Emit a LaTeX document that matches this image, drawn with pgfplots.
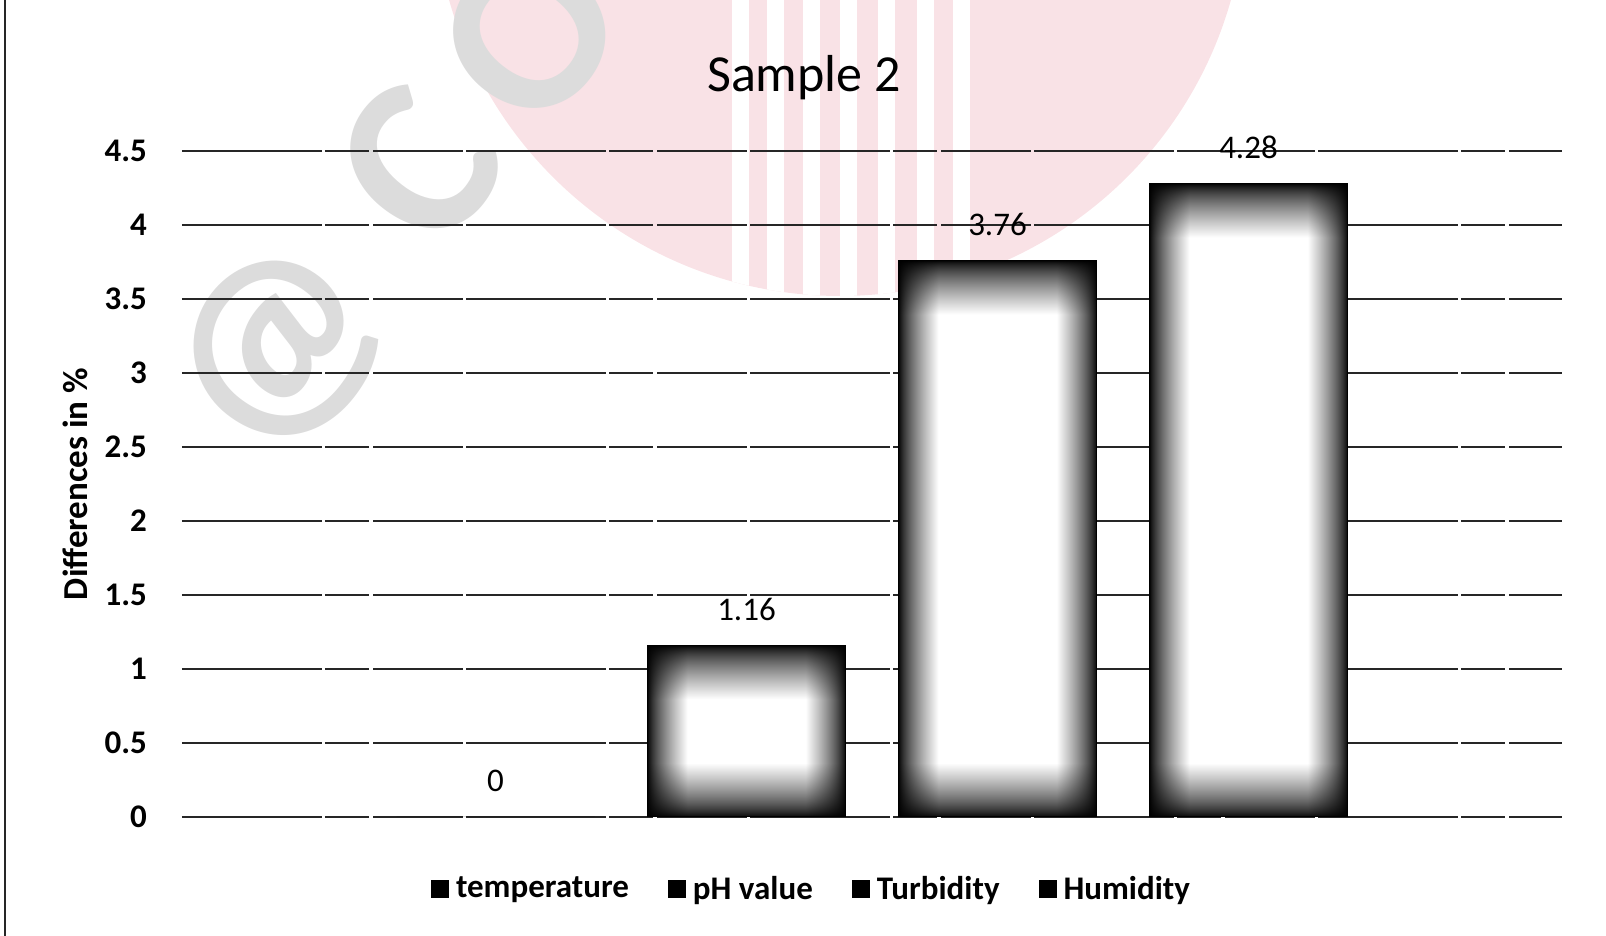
\documentclass[border=0pt]{standalone}
\usepackage{pgfplots}
\pgfplotsset{compat=1.18}
\usepackage{fontspec}
\setmainfont{Carlito}
\definecolor{wmpink}{RGB}{249,226,230}
\definecolor{wmgray}{RGB}{220,220,220}
% rectangular vignette: dark edges fading to a white interior (bar width 99pt, height #2 pt)
\newcommand{\declvign}[2]{%
\pgfdeclarefunctionalshading{#1}{\pgfpoint{-50bp}{-50bp}}{\pgfpoint{50bp}{50bp}}{}{
  abs 25 exch sub #2 mul 50 div 27 div dup 1 gt {pop 1} if dup 0 lt {pop 0} if
  exch abs 25 exch sub 99 mul 50 div 20 div dup 1 gt {pop 1} if dup 0 lt {pop 0} if
  mul 0.75 exp dup dup
}}
\declvign{vignA}{85.8}
\declvign{vignB}{278.2}
\declvign{vignC}{316.7}
\pgfplotsset{sqlegend/.style={legend image code/.code={\pgfpathrectangle{\pgfpoint{0pt}{-4.5pt}}{\pgfpoint{9pt}{9pt}}\pgfsetfillcolor{black}\pgfusepath{fill}}}}
\newcommand{\lblfont}{\bfseries\fontsize{16.5}{19}\selectfont}
\begin{document}
\begin{tikzpicture}
\useasboundingbox (-91pt,-59.5pt) rectangle (712pt,408.5pt);
\clip (-91pt,-59.5pt) rectangle (712pt,408.5pt);
% watermark (decorative background)
\fill[wmpink] (329pt,463.5pt) circle (203pt);
\begin{scope}
\clip (329pt,463.5pt) circle (203pt);
\foreach \sx in {275,292.5,310.5,329,348,367.5,385.5}{
  \fill[white] (\sx pt,200pt) rectangle ++(8.5pt,250pt);
}
\end{scope}
\node[text=wmgray, rotate=52, inner sep=0pt, font=\bfseries\fontsize{115}{115}\selectfont] at (48.5pt,233pt) {@};
\node[text=wmgray, rotate=52, inner sep=0pt, font=\bfseries\fontsize{115}{115}\selectfont] at (118pt,326pt) {C};
\node[text=wmgray, rotate=52, inner sep=0pt, font=\bfseries\fontsize{115}{115}\selectfont] at (174pt,392pt) {O};
% left frame line
\draw[black!85, line width=1.2pt] (-88.5pt,-59.5pt) -- (-88.5pt,408.5pt);
\begin{axis}[
  scale only axis, width=690pt, height=333pt,
  xmin=-1.249, xmax=4.249, ymin=0, ymax=4.5,
  ybar, bar width=99pt, bar shift=0pt,
  ytick={0,0.5,1,1.5,2,2.5,3,3.5,4,4.5},
  yticklabels={0,0.5,1,1.5,2,2.5,3,3.5,4,4.5},
  xtick=\empty,
  major tick length=0pt,
  /pgf/number format/assume math mode=true,
  ymajorgrids, grid style={black!85, line width=0.85pt, dash pattern=on 70pt off 1.5pt on 22pt off 2pt on 45pt off 1.5pt},
  axis line style={draw=none},
  tick label style={font=\lblfont},
  yticklabel style={anchor=east, xshift=-14pt},
  ylabel={Differences in \%},
  ylabel style={font=\bfseries\fontsize{17.5}{21}\selectfont, at={(axis description cs:-0.0775,0.5)}, anchor=center},
  title={Sample 2},
  every axis title shift=0pt,
  title style={font=\fontsize{26}{30}\selectfont, at={(axis description cs:0.4507,1.110)}, anchor=center},
  legend style={at={(axis description cs:0.4569,-0.108)}, anchor=center, legend columns=-1, draw=none, fill=none, font=\lblfont, /tikz/every odd column/.append style={column sep=1.5pt}, /tikz/every even column/.append style={column sep=17.5pt}},
  nodes near coords,
  every node near coord/.append style={font=\fontsize{16.5}{19}\selectfont, anchor=center, yshift=18pt, text=black},
]
\addplot[fill=black, draw=none, sqlegend] coordinates {(0,0)};
\addplot[draw=black, line width=0.6pt, shading=vignA, sqlegend] coordinates {(1,1.16)};
\addplot[draw=black, line width=0.6pt, shading=vignB, sqlegend] coordinates {(2,3.76)};
\addplot[draw=black, line width=0.6pt, shading=vignC, sqlegend] coordinates {(3,4.28)};
\legend{temperature, pH value, Turbidity, Humidity}
\end{axis}
\end{tikzpicture}
\end{document}
